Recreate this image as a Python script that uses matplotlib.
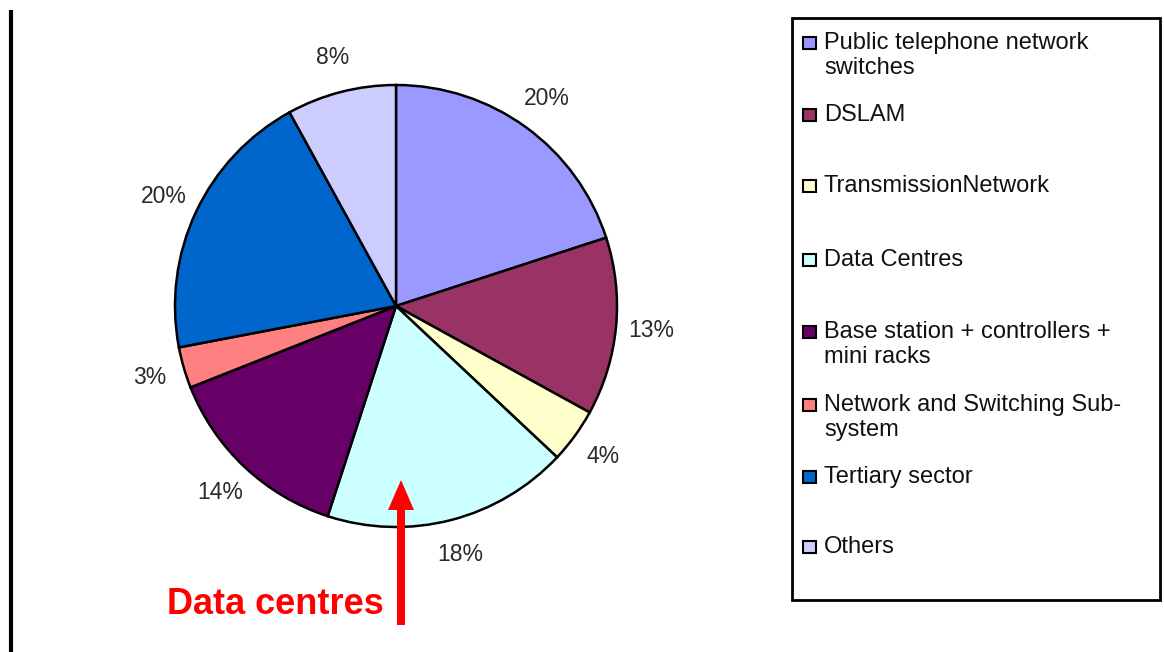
import matplotlib.pyplot as plt
from matplotlib.patches import Rectangle, FancyArrow

plt.rcParams['font.family'] = ['Liberation Sans', 'DejaVu Sans']

# pie data, clockwise from 12 o'clock
categories = ['Public telephone network\nswitches', 'DSLAM', 'TransmissionNetwork',
              'Data Centres', 'Base station + controllers +\nmini racks',
              'Network and Switching Sub-\nsystem', 'Tertiary sector', 'Others']
shares = [20, 13, 4, 18, 14, 3, 20, 8]
colors = ['#9999FF', '#993366', '#FFFFCC', '#CCFFFF', '#660066',
          '#FF8080', '#0066CC', '#CCCCFF']

W, H = 1164, 652
fig = plt.figure(figsize=(W / 100, H / 100), dpi=100)

# background axes in pixel coords (y down)
bg = fig.add_axes([0, 0, 1, 1])
bg.set_xlim(0, W)
bg.set_ylim(H, 0)
bg.axis('off')

# pie axes
cx, cy, r = 396, 306, 221
pie_ax = fig.add_axes([(cx - r) / W, (H - cy - r) / H, 2 * r / W, 2 * r / H])
wedges, texts, autotexts = pie_ax.pie(
    shares, colors=colors, startangle=90, counterclock=False,
    autopct='%d%%', pctdistance=1.16,
    wedgeprops=dict(edgecolor='black', linewidth=1.8),
    textprops=dict(fontsize=16.5, color='#2a2a2a'))
pie_ax.set_xlim(-1, 1)
pie_ax.set_ylim(-1, 1)
pie_ax.axis('off')

# overlay axes for things drawn on top of the pie
top = fig.add_axes([0, 0, 1, 1])
top.set_xlim(0, W)
top.set_ylim(H, 0)
top.axis('off')
top.patch.set_alpha(0)

# left border line
top.plot([11, 11], [10, H], color='black', lw=3, solid_capstyle='butt')

# legend box
top.add_patch(Rectangle((792, 18), 368, 582, fill=False, edgecolor='black', lw=2))
entry_y = [43, 115, 186, 260, 332, 405, 477, 547]
for lab, col, y in zip(categories, colors, entry_y):
    top.add_patch(Rectangle((803, y - 6), 13, 12, facecolor=col, edgecolor='black', lw=1.5))
    top.text(824, y - 11, lab, fontsize=17, color='#111111', va='top', ha='left',
             linespacing=1.15)

# annotation
top.add_patch(FancyArrow(401, 625, 0, -145, width=8, head_width=26, head_length=30,
                         length_includes_head=True, color='#FF0000', lw=0))
top.text(384, 604, 'Data centres', fontsize=26, fontweight='bold', color='#FF0000',
         ha='right', va='center')

fig.savefig('out.png', dpi=100)
